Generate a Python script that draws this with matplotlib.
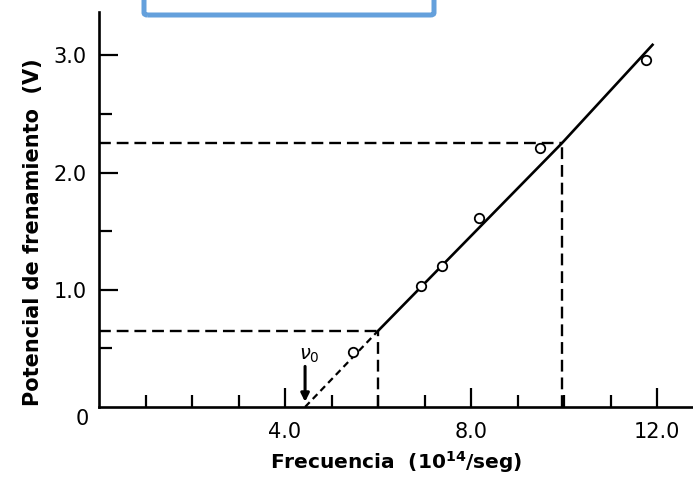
import matplotlib
matplotlib.use('Agg')
import matplotlib.pyplot as plt
from matplotlib.patches import FancyBboxPatch

plt.rcParams['font.family'] = 'DejaVu Sans'

# datos medidos (frecuencia en 10^14 Hz, potencial en V)
frecuencia = [5.47, 6.93, 7.37, 8.18, 9.48, 11.76]
potencial = [0.47, 1.03, 1.20, 1.61, 2.21, 2.96]

# recta de ajuste: nu0 -> esquina inferior -> esquina superior -> extremo
ajuste_x = [4.43, 6.0, 9.95, 11.9]
ajuste_y = [0.0, 0.65, 2.25, 3.09]

nu0 = 4.43
x_ticks = [4.0, 8.0, 12.0]
x_tick_labels = ['4.0', '8.0', '12.0']
y_ticks = [1.0, 2.0, 3.0]
y_tick_labels = ['1.0', '2.0', '3.0']

fig = plt.figure(figsize=(6.93, 4.79), dpi=100)
ax = fig.add_axes([99 / 693, 72 / 479, 594 / 693, 395 / 479])
ax.set_xlim(0, 12.77)
ax.set_ylim(0, 3.37)

for s in ['top', 'right']:
    ax.spines[s].set_visible(False)
for s in ['left', 'bottom']:
    ax.spines[s].set_linewidth(1.9)

# ticks hacia dentro
ax.set_xticks(x_ticks)
ax.set_xticklabels(x_tick_labels)
ax.set_xticks([1, 2, 3, 5, 6, 7, 9, 10, 11], minor=True)
ax.set_yticks(y_ticks)
ax.set_yticklabels(y_tick_labels)
ax.set_yticks([0.5, 1.5, 2.5], minor=True)
ax.tick_params(which='major', direction='in', length=14, width=1.6, labelsize=15)
ax.tick_params(which='minor', direction='in', length=9, width=1.6)
ax.tick_params(axis='x', which='major', pad=11)
ax.tick_params(axis='y', which='major', pad=9)
ax.text(-0.22, -0.02, '0', ha='right', va='top', fontsize=15)

# líneas auxiliares discontinuas
dash = (0, (5, 2.5))
for gx, gy in [(ajuste_x[1], ajuste_y[1]), (ajuste_x[2], ajuste_y[2])]:
    ax.plot([0, gx], [gy, gy], color='black', lw=1.7, linestyle=dash)
    ax.plot([gx, gx], [0, gy], color='black', lw=1.7, linestyle=dash)

# extrapolación hasta nu0 y recta de ajuste
ax.plot(ajuste_x[:2], ajuste_y[:2], color='black', lw=1.6, linestyle=(0, (3, 2)))
ax.plot(ajuste_x[1:], ajuste_y[1:], color='black', lw=1.9)

# puntos experimentales
ax.plot(frecuencia, potencial, 'o', ms=6.8, mfc='white', mec='black', mew=1.3)

# flecha nu0
ax.annotate('', xy=(nu0, 0.02), xytext=(nu0, 0.37),
            arrowprops=dict(arrowstyle='-|>', color='black', lw=2.2, mutation_scale=12))
ax.text(nu0 + 0.1, 0.44, r'$\nu_0$', ha='center', va='center', fontsize=14, fontweight='bold')

ax.set_xlabel(r'Frecuencia  (10$^{\mathbf{14}}$/seg)', fontsize=14.5, fontweight='bold', labelpad=5)
ax.set_ylabel('Potencial de frenamiento  (V)', fontsize=15, fontweight='bold')
ax.yaxis.set_label_coords(-0.095, 0.443)

# recuadro azul superior
caja = FancyBboxPatch((144 / 693, 1 - 15 / 479), 290 / 693, 0.1,
                      boxstyle='round,pad=0,rounding_size=0.005',
                      transform=fig.transFigure, fill=False,
                      edgecolor='#64a0dc', linewidth=3.6)
fig.add_artist(caja)

fig.savefig('out.png', dpi=100)
